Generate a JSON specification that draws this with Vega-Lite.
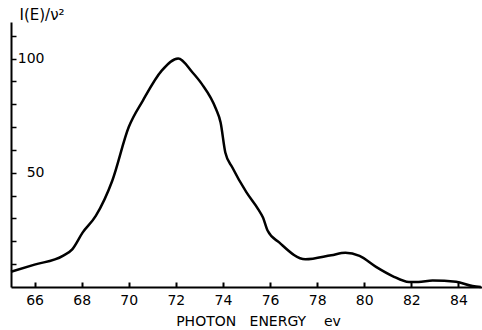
{
  "$schema": "https://vega.github.io/schema/vega-lite/v6.json",
  "width": 471,
  "height": 265,
  "autosize": {"type": "none"},
  "padding": {"left": 11, "top": 22, "right": 0, "bottom": 43},
  "background": "white",
  "config": {"view": {"stroke": null}, "font": "DejaVu Sans"},
  "data": {"values": [
    {"E": 65.0, "I": 6.7},
    {"E": 66.0, "I": 9.8},
    {"E": 67.2, "I": 13.6},
    {"E": 67.6, "I": 16.5},
    {"E": 68.04, "I": 23.8},
    {"E": 68.6, "I": 31.1},
    {"E": 69.3, "I": 46.5},
    {"E": 70.0, "I": 70},
    {"E": 70.6, "I": 81.6},
    {"E": 71.4, "I": 94.7},
    {"E": 72.1, "I": 100},
    {"E": 72.7, "I": 94},
    {"E": 73.1, "I": 88.9},
    {"E": 73.7, "I": 78},
    {"E": 73.9, "I": 72},
    {"E": 74.1, "I": 58.9},
    {"E": 74.4, "I": 52.3},
    {"E": 75.0, "I": 41.4},
    {"E": 75.5, "I": 34},
    {"E": 75.7, "I": 30.4},
    {"E": 75.9, "I": 24.6},
    {"E": 76.4, "I": 19.4},
    {"E": 77.5, "I": 12.1},
    {"E": 78.6, "I": 13.9},
    {"E": 79.2, "I": 15},
    {"E": 79.8, "I": 13.6},
    {"E": 80.5, "I": 8.8},
    {"E": 81.2, "I": 4.8},
    {"E": 81.9, "I": 2.2},
    {"E": 82.3, "I": 2.2},
    {"E": 82.9, "I": 2.9},
    {"E": 83.9, "I": 2.3},
    {"E": 84.6, "I": 0.4},
    {"E": 84.95, "I": 0}
  ]},
  "mark": {"type": "line", "color": "black", "strokeWidth": 2.5, "interpolate": "monotone"},
  "encoding": {
    "x": {
      "field": "E", "type": "quantitative",
      "scale": {"domain": [65, 85], "nice": false, "zero": false},
      "axis": {
        "values": [66, 68, 70, 72, 74, 76, 78, 80, 82, 84],
        "grid": false,
        "domainColor": "black", "domainWidth": 2,
        "tickColor": "black", "tickWidth": 2, "tickSize": -5,
        "labelFontSize": 14, "labelColor": "black", "labelPadding": 11,
        "title": "PHOTON\u00a0\u00a0\u00a0ENERGY\u00a0\u00a0\u00a0\u00a0ev",
        "titleFontSize": 14, "titleFontWeight": "normal", "titleColor": "black",
        "titleBaseline": "middle",
        "titleX": 247, "titleY": 34
      }
    },
    "y": {
      "field": "I", "type": "quantitative",
      "scale": {"domain": [0, 116], "nice": false},
      "axis": {
        "values": [10, 20, 30, 40, 50, 60, 70, 80, 90, 100, 110],
        "labelExpr": "datum.value == 50 || datum.value == 100 ? datum.label : ''",
        "grid": false,
        "domainColor": "black", "domainWidth": 2,
        "tickColor": "black", "tickWidth": 1.5, "tickSize": -5,
        "labelFontSize": 14, "labelColor": "black", "labelAlign": "right", "labelPadding": -28,
        "title": "I(E)/ν²",
        "titleAngle": 0, "titleAlign": "left", "titleBaseline": "middle",
        "titleFontSize": 15, "titleFontWeight": "normal", "titleColor": "black",
        "titleX": 8, "titleY": -8
      }
    }
  }
}
